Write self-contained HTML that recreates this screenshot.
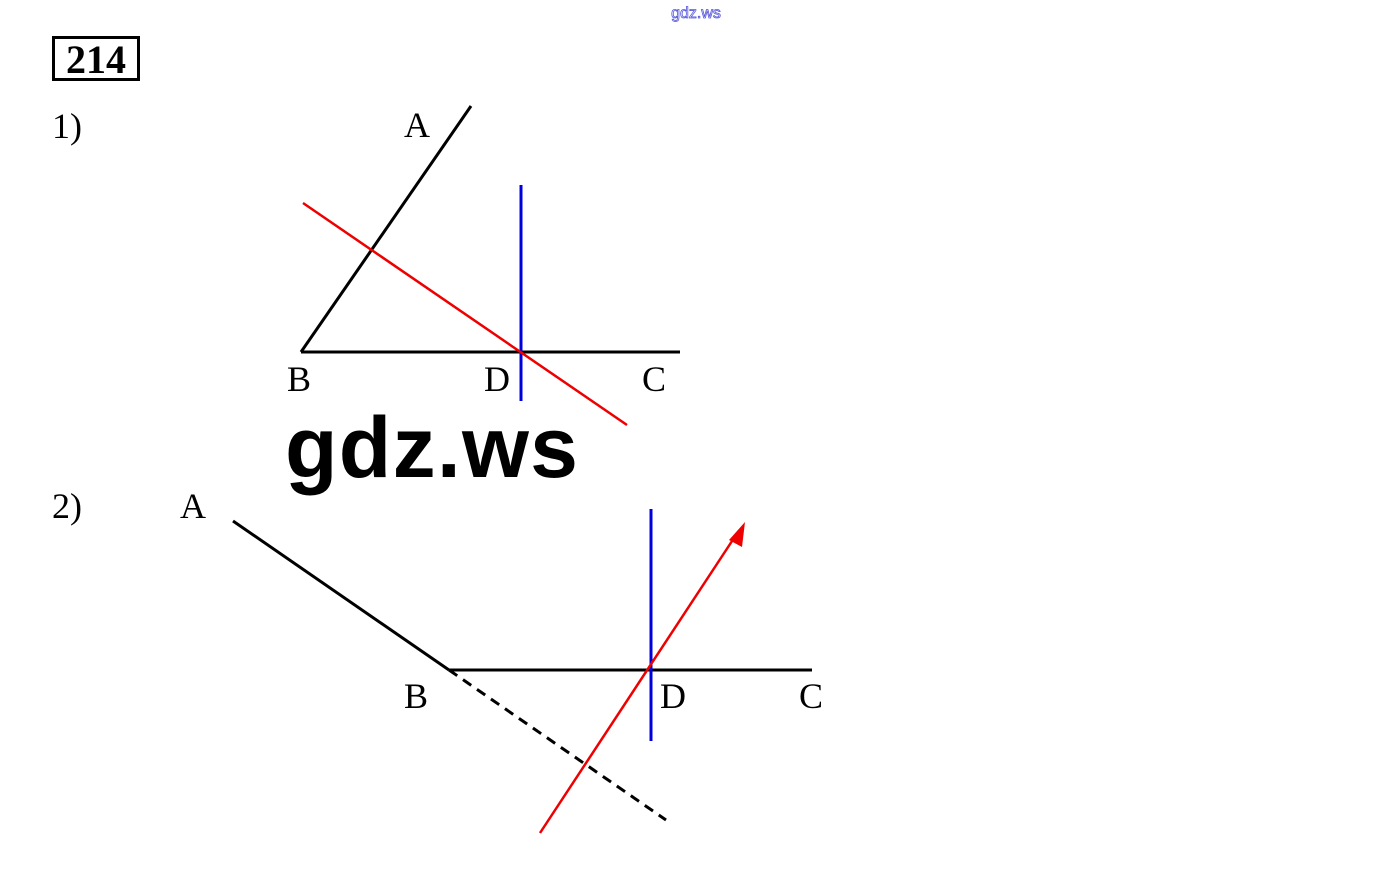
<!DOCTYPE html>
<html><head><meta charset="utf-8"><style>
html,body{margin:0;padding:0;background:#fff;}
svg{display:block}
</style></head><body>
<svg width="1392" height="892" viewBox="0 0 1392 892" xmlns="http://www.w3.org/2000/svg">
<rect width="1392" height="892" fill="#fff"/>
<text x="696" y="18" font-family="Liberation Sans, sans-serif" font-size="16" fill="#fff" stroke="#5555dd" stroke-width="0.8" text-anchor="middle">gdz.ws</text>
<rect x="53.5" y="37.5" width="85" height="42" fill="none" stroke="#000" stroke-width="3"/>
<text x="96" y="73" font-family="Liberation Serif, serif" font-weight="bold" font-size="40" text-anchor="middle">214</text>
<g font-family="Liberation Serif, serif" font-size="36" fill="#000">
<text x="52" y="138">1)</text>
<text x="404" y="137">A</text>
<text x="287" y="391">B</text>
<text x="484" y="391">D</text>
<text x="642" y="391">C</text>
<text x="52" y="518">2)</text>
<text x="180" y="518">A</text>
<text x="404" y="708">B</text>
<text x="660" y="708">D</text>
<text x="799" y="708">C</text>
</g>
<g stroke="#000" stroke-width="3" fill="none">
<line x1="301" y1="352" x2="471" y2="106"/>
<line x1="301" y1="352" x2="680" y2="352"/>
</g>
<line x1="521" y1="185" x2="521" y2="401" stroke="#0000dd" stroke-width="3"/>
<line x1="303" y1="203" x2="627" y2="425" stroke="#e00" stroke-width="2.5"/>
<text x="285" y="477" font-family="Liberation Sans, sans-serif" font-weight="bold" font-size="86" textLength="293" lengthAdjust="spacing">gdz.ws</text>
<g stroke="#000" stroke-width="3" fill="none">
<line x1="233" y1="521" x2="449" y2="670"/>
<line x1="449" y1="670" x2="812" y2="670"/>
<line x1="449" y1="670" x2="666" y2="820" stroke-dasharray="10,7"/>
</g>
<line x1="651" y1="509" x2="651" y2="741" stroke="#0000dd" stroke-width="3"/>
<line x1="540" y1="833" x2="736" y2="535" stroke="#e00" stroke-width="2.5"/>
<polygon points="745,522 729,540 742,547" fill="#e00"/>
</svg>
</body></html>
